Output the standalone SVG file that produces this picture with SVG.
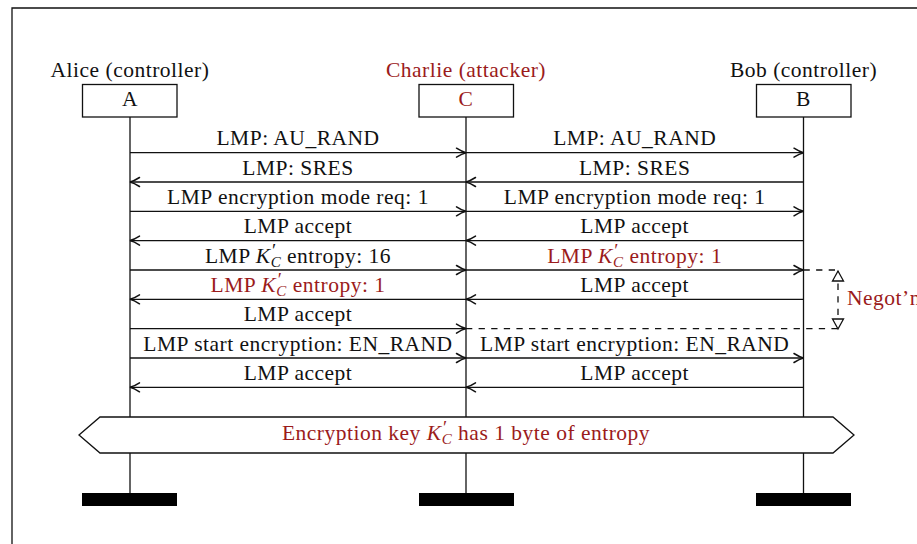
<svg xmlns="http://www.w3.org/2000/svg" width="917" height="544" viewBox="0 0 917 544">
<style>
text{font-family:"Liberation Serif",serif;font-size:21.5px;fill:#111;text-anchor:middle;letter-spacing:0.5px}
.red{fill:#9b1b1b}
.it{font-style:italic}
.sub{font-size:15px}
.pr{font-size:19px}
.ln{stroke:#111;stroke-width:1.3;fill:none}
.msg{stroke:#111;stroke-width:1.3;fill:none;marker-end:url(#arr)}
.dash{stroke:#111;stroke-width:1.3;fill:none;stroke-dasharray:6.3 6.3}
.box{fill:#fff;stroke:#111;stroke-width:1.3}
.bar{fill:#000}
</style>
<defs>
<marker id="arr" viewBox="-11 -6 12 12" refX="0" refY="0" markerWidth="12" markerHeight="12" markerUnits="userSpaceOnUse" orient="auto" overflow="visible">
<path d="M-9.5,-4.5 Q-4,-1 0,0 Q-4,1 -9.5,4.5" fill="none" stroke="#111" stroke-width="1.5" stroke-linecap="round"/>
</marker>
<marker id="tri" viewBox="-12 -7 14 14" refX="0" refY="0" markerWidth="14" markerHeight="14" markerUnits="userSpaceOnUse" orient="auto-start-reverse" overflow="visible">
<path d="M0,0 L-10,-5.5 L-10,5.5 Z" fill="#fff" stroke="#111" stroke-width="1.3" stroke-linejoin="miter"/>
</marker>
</defs>
<rect width="917" height="544" fill="#fff"/>
<path class="ln" d="M12,546 V8 H920"/>

<g id="alice">
<line class="ln" x1="130" y1="117" x2="130" y2="494"/>
<text x="130" y="77">Alice (controller)</text>
<rect class="box" x="82.5" y="84.5" width="94.5" height="32.5"/>
<text x="130" y="106">A</text>
<rect class="bar" x="82" y="493" width="95" height="13"/>
</g>
<g id="charlie">
<line class="ln" x1="466" y1="117" x2="466" y2="494"/>
<text class="red" x="466" y="77">Charlie (attacker)</text>
<rect class="box" x="419" y="84.5" width="94.5" height="32.5"/>
<text class="red" x="466" y="106">C</text>
<rect class="bar" x="419" y="493" width="95" height="13"/>
</g>
<g id="bob">
<line class="ln" x1="803.5" y1="117" x2="803.5" y2="494"/>
<text x="803.5" y="77">Bob (controller)</text>
<rect class="box" x="756.5" y="84.5" width="94.5" height="32.5"/>
<text x="803.5" y="106">B</text>
<rect class="bar" x="756" y="493" width="95" height="13"/>
</g>

<g id="connectors">
<line class="msg" x1="130" y1="152.7" x2="466" y2="152.7"/>
<line class="msg" x1="466" y1="152.7" x2="803.5" y2="152.7"/>
<line class="msg" x1="466" y1="182" x2="130" y2="182"/>
<line class="msg" x1="803.5" y1="182" x2="466" y2="182"/>
<line class="msg" x1="130" y1="211.3" x2="466" y2="211.3"/>
<line class="msg" x1="466" y1="211.3" x2="803.5" y2="211.3"/>
<line class="msg" x1="466" y1="240.6" x2="130" y2="240.6"/>
<line class="msg" x1="803.5" y1="240.6" x2="466" y2="240.6"/>
<line class="msg" x1="130" y1="270" x2="466" y2="270"/>
<line class="msg" x1="466" y1="270" x2="803.5" y2="270"/>
<line class="msg" x1="466" y1="299.3" x2="130" y2="299.3"/>
<line class="msg" x1="803.5" y1="299.3" x2="466" y2="299.3"/>
<line class="msg" x1="130" y1="328.6" x2="466" y2="328.6"/>
<line class="msg" x1="130" y1="358" x2="466" y2="358"/>
<line class="msg" x1="466" y1="358" x2="803.5" y2="358"/>
<line class="msg" x1="466" y1="387.3" x2="130" y2="387.3"/>
<line class="msg" x1="803.5" y1="387.3" x2="466" y2="387.3"/>
<line class="dash" x1="803.5" y1="270" x2="838" y2="270"/>
<line class="dash" x1="466" y1="328.6" x2="838" y2="328.6"/>
<line class="dash" x1="838" y1="271" x2="838" y2="329" marker-start="url(#tri)" marker-end="url(#tri)" stroke-dasharray="6.3 4"/>

<text x="298" y="145.2">LMP: AU_RAND</text>
<text x="634.7" y="145.2">LMP: AU_RAND</text>
<text x="298" y="174.5">LMP: SRES</text>
<text x="634.7" y="174.5">LMP: SRES</text>
<text x="298" y="203.8">LMP encryption mode req: 1</text>
<text x="634.7" y="203.8">LMP encryption mode req: 1</text>
<text x="298" y="233.1">LMP accept</text>
<text x="634.7" y="233.1">LMP accept</text>
<text x="298" y="262.5">LMP <tspan class="it">K</tspan><tspan class="pr" dx="1.5" dy="-6">′</tspan><tspan class="it sub" dx="-6" dy="10">C</tspan><tspan dy="-4"> entropy: 16</tspan></text>
<text class="red" x="634.7" y="262.5">LMP <tspan class="it">K</tspan><tspan class="pr" dx="1.5" dy="-6">′</tspan><tspan class="it sub" dx="-6" dy="10">C</tspan><tspan dy="-4"> entropy: 1</tspan></text>
<text class="red" x="298" y="291.8">LMP <tspan class="it">K</tspan><tspan class="pr" dx="1.5" dy="-6">′</tspan><tspan class="it sub" dx="-6" dy="10">C</tspan><tspan dy="-4"> entropy: 1</tspan></text>
<text x="634.7" y="291.8">LMP accept</text>
<text x="298" y="321.1">LMP accept</text>
<text x="298" y="350.5">LMP start encryption: EN_RAND</text>
<text x="634.7" y="350.5">LMP start encryption: EN_RAND</text>
<text x="298" y="379.8">LMP accept</text>
<text x="634.7" y="379.8">LMP accept</text>
</g>

<g id="negotiation">
<text class="red" x="847" y="305" style="text-anchor:start">Negot’n</text>
</g>

<g id="result">
<polygon class="box" points="79,435 100,417 833,417 854,435 833,453 100,453"/>
<text class="red" x="466" y="440">Encryption key <tspan class="it">K</tspan><tspan class="pr" dx="1.5" dy="-6">′</tspan><tspan class="it sub" dx="-6" dy="10">C</tspan><tspan dy="-4"> has 1 byte of entropy</tspan></text>
</g>
</svg>
